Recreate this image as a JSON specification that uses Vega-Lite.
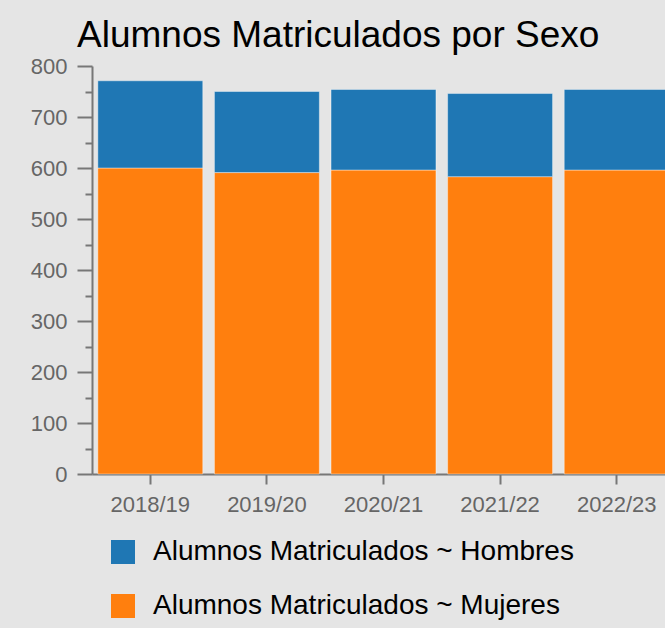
{
  "$schema": "https://vega.github.io/schema/vega-lite/v6.json",
  "background": "#e5e5e5",
  "padding": {"left": 30, "top": 17, "right": 0, "bottom": 12},
  "width": 583,
  "height": 408,
  "title": {
    "text": "Alumnos Matriculados por Sexo",
    "anchor": "start",
    "frame": "group",
    "dx": -15,
    "font": "Liberation Sans",
    "fontSize": 37,
    "fontWeight": "normal",
    "color": "#000000",
    "offset": 0
  },
  "data": {
    "values": [
      {"curso": "2018/19", "serie": "Alumnos Matriculados ~ Mujeres", "alumnos": 600},
      {"curso": "2018/19", "serie": "Alumnos Matriculados ~ Hombres", "alumnos": 171},
      {"curso": "2019/20", "serie": "Alumnos Matriculados ~ Mujeres", "alumnos": 591},
      {"curso": "2019/20", "serie": "Alumnos Matriculados ~ Hombres", "alumnos": 159},
      {"curso": "2020/21", "serie": "Alumnos Matriculados ~ Mujeres", "alumnos": 596},
      {"curso": "2020/21", "serie": "Alumnos Matriculados ~ Hombres", "alumnos": 158},
      {"curso": "2021/22", "serie": "Alumnos Matriculados ~ Mujeres", "alumnos": 583},
      {"curso": "2021/22", "serie": "Alumnos Matriculados ~ Hombres", "alumnos": 163},
      {"curso": "2022/23", "serie": "Alumnos Matriculados ~ Mujeres", "alumnos": 596},
      {"curso": "2022/23", "serie": "Alumnos Matriculados ~ Hombres", "alumnos": 158}
    ]
  },
  "mark": {"type": "bar", "stroke": "#ffffff", "strokeWidth": 1, "strokeOpacity": 0.4},
  "encoding": {
    "x": {
      "field": "curso",
      "type": "nominal",
      "title": null,
      "scale": {"paddingInner": 0.1, "paddingOuter": 0.05},
      "axis": {
        "labelAngle": 0,
        "labelFont": "Liberation Sans",
        "labelFontSize": 22,
        "labelColor": "#666666",
        "labelPadding": 10,
        "tickSize": 10,
        "tickWidth": 2,
        "tickColor": "#777777",
        "domainColor": "#777777",
        "domainWidth": 2
      }
    },
    "y": {
      "field": "alumnos",
      "type": "quantitative",
      "aggregate": "sum",
      "stack": "zero",
      "title": null,
      "scale": {"domain": [0, 800], "nice": false},
      "axis": {
        "values": [0, 50, 100, 150, 200, 250, 300, 350, 400, 450, 500, 550, 600, 650, 700, 750, 800],
        "labelExpr": "datum.value % 100 === 0 ? datum.label : ''",
        "grid": false,
        "labelFont": "Liberation Sans",
        "labelFontSize": 22,
        "labelColor": "#666666",
        "labelPadding": 10,
        "tickSize": {"condition": {"test": "datum.value % 100 === 0", "value": 15}, "value": 7},
        "tickWidth": 2,
        "tickColor": "#777777",
        "domainColor": "#777777",
        "domainWidth": 2
      }
    },
    "color": {
      "field": "serie",
      "type": "nominal",
      "title": null,
      "scale": {
        "domain": ["Alumnos Matriculados ~ Hombres", "Alumnos Matriculados ~ Mujeres"],
        "range": ["#1f77b4", "#ff7f0e"]
      },
      "legend": {
        "orient": "none",
        "legendX": 17,
        "legendY": 472,
        "direction": "vertical",
        "symbolType": "square",
        "symbolSize": 576,
        "symbolStrokeWidth": 0,
        "labelFont": "Liberation Sans",
        "labelFontSize": 28,
        "labelColor": "#000000",
        "labelOffset": 16,
        "labelLimit": 600,
        "rowPadding": 26
      }
    },
    "order": {"field": "serie", "sort": "descending"}
  },
  "config": {"view": {"stroke": null}}
}
